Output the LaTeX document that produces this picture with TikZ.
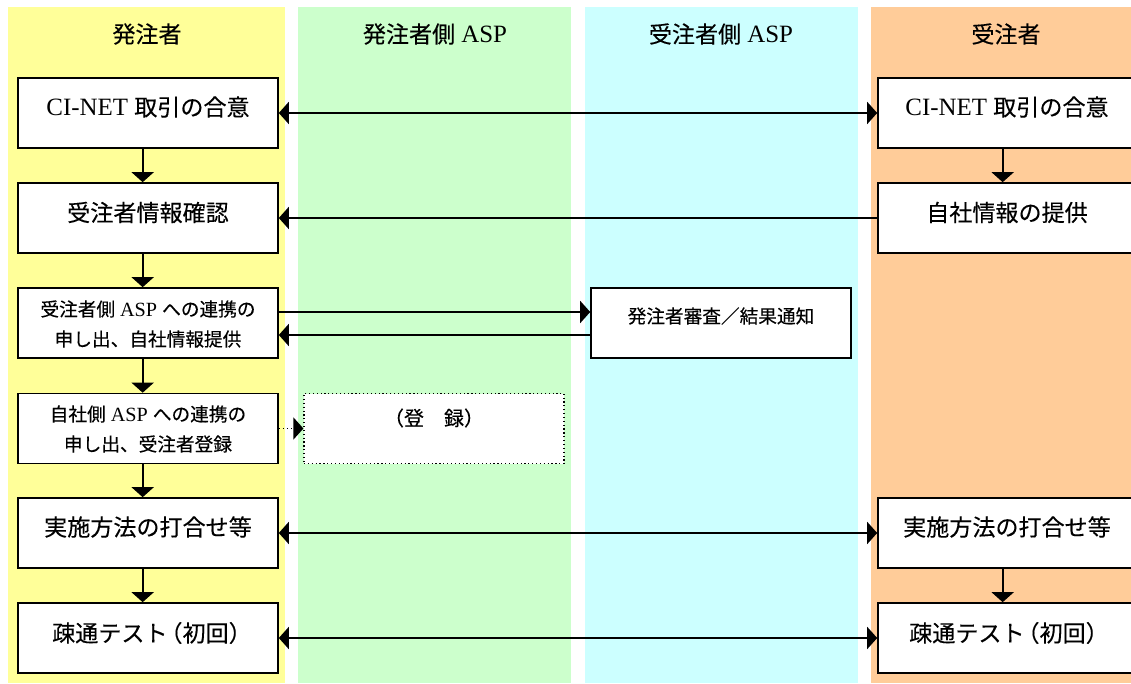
\documentclass[tikz,border=0pt]{standalone}
\usepackage{fontspec}
\setmainfont[Scale=1.08]{Liberation Serif}
\newfontfamily\jp[UprightFeatures={FakeBold=0.25}]{Noto Sans CJK JP}
\usetikzlibrary{arrows.meta,calc}
\definecolor{laneY}{HTML}{FFFF99}
\definecolor{laneG}{HTML}{CCFFCC}
\definecolor{laneC}{HTML}{CCFFFF}
\definecolor{laneO}{HTML}{FFCC99}
\begin{document}
\begin{tikzpicture}[x=0.75pt,y=-0.75pt,
  box/.style={draw=black,fill=white,line width=1.2pt,minimum width=195pt,minimum height=52.5pt,inner sep=0pt},
  dbox/.style={draw=black,fill=white,line width=0.9pt,dotted,minimum width=195pt,minimum height=52.5pt,inner sep=0pt},
  head/.style={font=\fontsize{17.3}{20}\selectfont,inner sep=0pt},
  txt/.style={font=\fontsize{17.3}{20}\selectfont,inner sep=0pt},
  txtm/.style={font=\fontsize{14}{18}\selectfont,inner sep=0pt},
  txts/.style={font=\fontsize{14}{22.5}\selectfont,align=center,inner sep=0pt},
  arr/.style={line width=1.3pt,-{Triangle[length=7.5pt,width=16.5pt]}},
  darr/.style={line width=1.3pt,{Triangle[length=7.5pt,width=16.5pt]}-{Triangle[length=7.5pt,width=16.5pt]}},
  dotarr/.style={line width=1pt,dotted,-{Triangle[length=7.5pt,width=16.5pt,sep=0pt]}}
]
\useasboundingbox (0,0) rectangle (1131,684);
\clip (0,0) rectangle (1131,684);
% lanes
\fill[laneY] (8,7) rectangle (285,683);
\fill[laneG] (298,7) rectangle (571,683);
\fill[laneC] (585,7) rectangle (858,683);
\fill[laneO] (871,7) rectangle (1131,683);
% headers
\node[head] (h1) at (147,34) {\jp 発注者};
\node[head] (h2) at (435,34) {{\jp 発注者側} ASP};
\node[head] (h3) at (721,34) {{\jp 受注者側} ASP};
\node[head] (h4) at (1006,34) {\jp 受注者};
% left boxes
\node[box] (l1) at (148,113) {};
\node[box] (l2) at (148,218) {};
\node[box] (l3) at (148,323) {};
\node[box] (l4) at (148,428.5) {};
\node[box] (l5) at (148,533) {};
\node[box] (l6) at (148,638) {};
\node[txt] (l1t) at (148,107) {CI-NET {\jp 取引の合意}};
\node[txt] (l2t) at (148,212.5) {\jp 受注者情報確認};
\node[txts] (l3t) at (148,324) {{\jp 受注者側} ASP {\jp への連携の}\\{\jp 申し出、自社情報提供}};
\node[txts] (l4t) at (148,429) {{\jp 自社側} ASP {\jp への連携の}\\{\jp 申し出、受注者登録}};
\node[txt] (l5t) at (148,527) {\jp 実施方法の打合せ等};
\node[txt] (l6t) at (152,633) {\jp 疎通テスト\kern-0.35em（初回）};
% right boxes
\node[box] (r1) at (1008,113) {};
\node[box] (r2) at (1008,218) {};
\node[box] (r5) at (1008,533) {};
\node[box] (r6) at (1008,638) {};
\node[txt] (r1t) at (1007,107) {CI-NET {\jp 取引の合意}};
\node[txt] (r2t) at (1007,212.5) {\jp 自社情報の提供};
\node[txt] (r5t) at (1007,527) {\jp 実施方法の打合せ等};
\node[txt] (r6t) at (1009,633) {\jp 疎通テスト\kern-0.35em（初回）};
% middle boxes
\node[box] (m3) at (721,323) {};
\node[txtm] (m3t) at (721,316) {\jp 発注者審査／結果通知};
\node[dbox] (d4) at (434,428.5) {};
\node[txtm] (d4t) at (434,418) {\fontsize{15}{18}\selectfont\jp （登　録）};
% horizontal connectors
\draw[darr] (l1.east) -- (r1.west);
\draw[arr] (r2.west) -- (l2.east);
\draw[arr] ($(l3.east)+(0,-11)$) -- ($(m3.west)+(0,-11)$);
\draw[arr] ($(m3.west)+(0,12)$) -- ($(l3.east)+(0,12)$);
\draw[dotarr] (l4.east) -- (d4.west);
\draw[darr] (l5.east) -- (r5.west);
\draw[darr] (l6.east) -- (r6.west);
% vertical connectors
\draw[arr] ([xshift=-4pt]l1.south) -- ([xshift=-4pt]l2.north);
\draw[arr] ([xshift=-4pt]l2.south) -- ([xshift=-4pt]l3.north);
\draw[arr] ([xshift=-4pt]l3.south) -- ([xshift=-4pt]l4.north);
\draw[arr] ([xshift=-4pt]l4.south) -- ([xshift=-4pt]l5.north);
\draw[arr] ([xshift=-4pt]l5.south) -- ([xshift=-4pt]l6.north);
\draw[arr] ([xshift=-4pt]r1.south) -- ([xshift=-4pt]r2.north);
\draw[arr] ([xshift=-4pt]r5.south) -- ([xshift=-4pt]r6.north);
\end{tikzpicture}
\end{document}
